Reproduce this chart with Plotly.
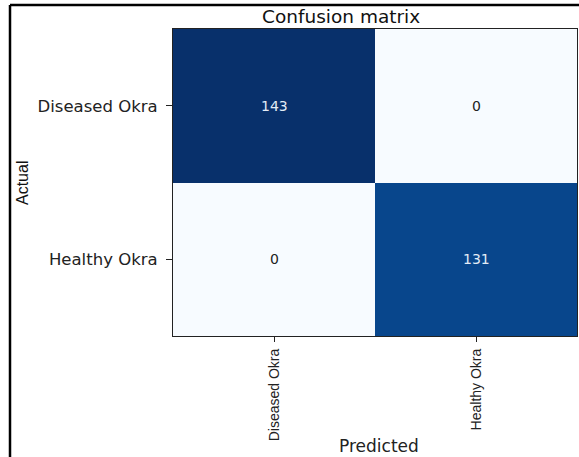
import plotly.graph_objects as go

classes = ["Diseased Okra", "Healthy Okra"]
actual_labels = ["Diseased Okra", "Healthy Okra"]
predicted_labels = ["Diseased Okra", "Healthy Okra"]
counts_diseased_row = [143, 0]
counts_healthy_row = [0, 131]

z = [counts_diseased_row, counts_healthy_row]
zmax = max(max(r) for r in z)

blues = [
    [0.0, "#f7fbff"], [0.125, "#deebf7"], [0.25, "#c6dbef"], [0.375, "#9ecae1"],
    [0.5, "#6baed6"], [0.625, "#4292c6"], [0.75, "#2171b5"], [0.875, "#08519c"],
    [1.0, "#08306b"],
]

W, H = 579, 457
L, R, T, B = 173, 2, 29, 121
pw = W - L - R
ph = H - T - B

def px_x(p):
    return (p - L) / pw

def px_y(p):
    return (H - B - p) / ph

fig = go.Figure(go.Heatmap(
    z=z, x=predicted_labels, y=actual_labels,
    colorscale=blues, zmin=0, zmax=zmax, showscale=False,
    xgap=0, ygap=0, hoverinfo="skip",
))

annotations = []
for i, row in enumerate(z):
    for j, v in enumerate(row):
        annotations.append(dict(
            x=predicted_labels[j], y=actual_labels[i], xref="x", yref="y",
            text=str(v), showarrow=False,
            font=dict(family="DejaVu Sans", size=14,
                      color="#e3ecf6" if v > zmax / 2 else "#222222"),
        ))

annotations += [
    dict(x=px_x(341), y=px_y(17), xref="paper", yref="paper", text="Confusion matrix",
         showarrow=False, xanchor="center", yanchor="middle",
         font=dict(family="DejaVu Sans", size=18.5, color="#111111")),
    dict(x=px_x(22), y=px_y(183), xref="paper", yref="paper", text="Actual",
         showarrow=False, textangle=-90, xanchor="center", yanchor="middle",
         font=dict(family="Liberation Sans", size=16, color="#111111")),
    dict(x=px_x(379), y=px_y(446), xref="paper", yref="paper", text="Predicted",
         showarrow=False, xanchor="center", yanchor="middle",
         font=dict(family="DejaVu Sans", size=17, color="#222222")),
]

shapes = [
    dict(type="line", xref="paper", yref="paper",
         x0=px_x(10), x1=px_x(10), y0=px_y(5), y1=px_y(460),
         line=dict(color="black", width=2.5)),
    dict(type="line", xref="paper", yref="paper",
         x0=px_x(10), x1=px_x(582), y0=px_y(5), y1=px_y(5),
         line=dict(color="black", width=2.5)),
]

fig.update_layout(
    width=W, height=H,
    margin=dict(l=L, r=R, t=T, b=B),
    paper_bgcolor="white", plot_bgcolor="white",
    annotations=annotations, shapes=shapes,
    xaxis=dict(
        tickangle=-90, ticks="outside", ticklen=5, tickcolor="#222",
        tickfont=dict(family="Liberation Sans", size=14, color="#222"),
        ticklabelstandoff=1,
        showline=True, linecolor="#222", linewidth=1.2, mirror=True,
        showgrid=False, zeroline=False, fixedrange=True,
    ),
    yaxis=dict(
        autorange="reversed", ticks="outside", ticklen=6, tickcolor="#222",
        tickfont=dict(family="DejaVu Sans", size=16.5, color="#222"),
        ticklabelstandoff=5,
        showline=True, linecolor="#222", linewidth=1.2, mirror=True,
        showgrid=False, zeroline=False, fixedrange=True,
    ),
)

fig.write_html("out.html", config={"displayModeBar": False},
               post_script="document.body.style.margin='0';")
